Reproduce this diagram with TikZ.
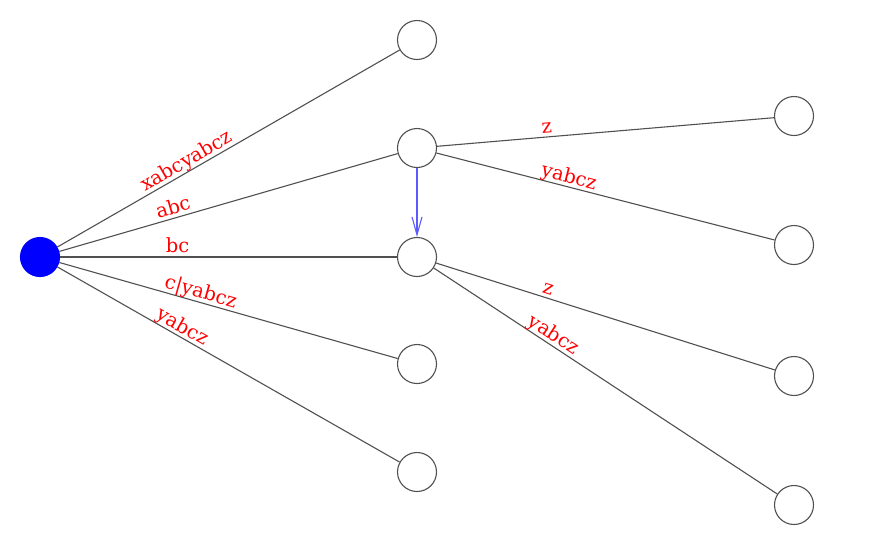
\documentclass[tikz,border=0pt]{standalone}
\usepackage{fontspec}
\setmainfont{DejaVu Serif}
\usetikzlibrary{arrows.meta}
\definecolor{stgray}{RGB}{80, 80, 80}
\definecolor{stred}{RGB}{255, 0, 0}
\definecolor{stblue}{RGB}{0, 0, 255}
\definecolor{stlink}{RGB}{90, 90, 255}
\tikzset{
    stnode/.style={circle, draw=stgray, fill=white, line width=1.1pt, minimum size=39pt, inner sep=0pt},
    rootnode/.style={stnode, fill=stblue, draw=stblue},
    stedge/.style={draw=stgray, line width=1.1pt},
    edgelabel/.style={sloped, above, text=stred, font=\fontsize{19.5}{22}\selectfont, text depth=0pt, inner sep=3.5pt},
    suffixlink/.style={draw=stlink, line width=1.1pt, -{Straight Barb[length=18pt, width=10pt]}}
}

\begin{document}
\begin{tikzpicture}[x=1pt, y=-1pt]
    \useasboundingbox (0,0) rectangle (872,547);
    % nodes
    \node[rootnode] (root) at (40,257) {};
    \node[stnode] (n1) at (417,40) {};
    \node[stnode] (n2) at (417,148) {};
    \node[stnode] (n3) at (417,257) {};
    \node[stnode] (n4) at (417,364) {};
    \node[stnode] (n5) at (417,472) {};
    \node[stnode] (m1) at (794,116) {};
    \node[stnode] (m2) at (794,245) {};
    \node[stnode] (m3) at (794,376) {};
    \node[stnode] (m4) at (794,505) {};
    % edges
    \draw[stedge] (root) -- node[edgelabel, pos=0.392] {xabcyabcz} (n1);
    \draw[stedge] (root) -- node[edgelabel, pos=0.345] {abc} (n2);
    \draw[stedge] (root) -- node[edgelabel, pos=0.349] {bc} (n3);
    \draw[stedge] (root) -- node[edgelabel, pos=0.41] {c|yabcz} (n4);
    \draw[stedge] (root) -- node[edgelabel, pos=0.351] {yabcz} (n5);
    \draw[stedge] (n2) -- node[edgelabel, pos=0.328] {z} (m1);
    \draw[stedge] (n2) -- node[edgelabel, pos=0.385] {yabcz} (m2);
    \draw[stedge] (n3) -- node[edgelabel, pos=0.322] {z} (m3);
    \draw[stedge] (n3) -- node[edgelabel, pos=0.333] {yabcz} (m4);
    % suffix link
    \draw[suffixlink] (n2) -- (n3);
\end{tikzpicture}
\end{document}
